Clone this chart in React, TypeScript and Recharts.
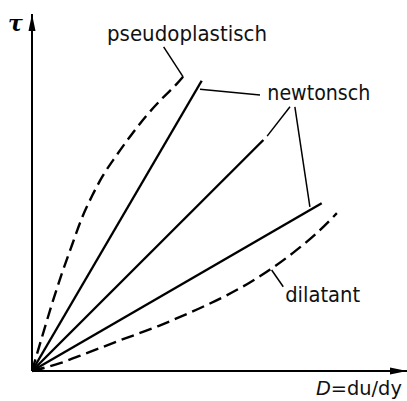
import { LineChart, Line, XAxis, YAxis, ReferenceLine, ReferenceDot } from "recharts";

// Fließkurven: Schubspannung tau über Schergefälle D (willkürliche Einheiten 0..100)
const pseudoX = [0, 2.67, 5.33, 8.0, 10.67, 13.33, 16.0, 18.67, 22.67, 26.67, 30.67, 34.67, 38.67, 41.33];
const pseudoY = [0, 9.5, 18.8, 27.4, 35.3, 42.9, 49.0, 54.3, 60.6, 66.4, 71.7, 76.3, 80.5, 83.75];

const dilX = [0, 7.5, 14.6, 23.5, 33.7, 38.7, 45.6, 51.9, 58.1, 63.5, 69.6, 75.9, 81.3];
const dilY = [0, 2.2, 5.0, 8.6, 12.6, 14.8, 18.0, 21.2, 24.8, 28.4, 33.1, 38.6, 44.2];

// newtonsche Geraden: Endpunkte (Start jeweils im Ursprung)
const newtonEndX = [45.25, 61.7, 77.25];
const newtonEndY = [81.3, 64.7, 47.0];

// Hinweislinien [x1, y1, x2, y2]
const leaders = [
  [35.1, 90.8, 40.3, 82.4],
  [44.8, 78.9, 60.8, 77.3],
  [68.8, 74.0, 62.7, 65.8],
  [70.1, 74.0, 74.1, 46.0],
  [63.9, 28.3, 67.0, 23.6],
];

// Beschriftungen: Text, x, y (Grundlinie), Breite in px
const labelText = ["pseudoplastisch", "newtonsch", "dilatant"];
const labelX = [20, 62.75, 67.5];
const labelY = [92.3, 75.9, 19.4];
const labelWidth = [160, 103, 75];

const zip = (xs: number[], ys: number[]) => xs.map((x, i) => ({ x, y: ys[i] }));

const pseudoData = zip(pseudoX, pseudoY);
const dilData = zip(dilX, dilY);
const newtonData = newtonEndX.map((x, i) => [
  { x: 0, y: 0 },
  { x, y: newtonEndY[i] },
]);

const FONT = "'DejaVu Sans Condensed', 'DejaVu Sans', sans-serif";

export default function App() {
  return (
    <div style={{ position: "absolute", left: 0, top: 0, background: "#fff" }}>
      <LineChart width={407} height={401} margin={{ top: 14, right: 0, bottom: 30, left: 32 }}>
        <XAxis type="number" dataKey="x" domain={[0, 100]} hide />
        <YAxis type="number" dataKey="y" domain={[0, 100]} hide />

        {/* Achsen */}
        <ReferenceLine x={0} stroke="#000" strokeWidth={2} />
        <ReferenceLine y={0} stroke="#000" strokeWidth={2} />

        <Line
          data={pseudoData}
          dataKey="y"
          type="monotone"
          stroke="#000"
          strokeWidth={2.4}
          strokeDasharray="12 6"
          dot={false}
          isAnimationActive={false}
        />
        {newtonData.map((d, i) => (
          <Line
            key={i}
            data={d}
            dataKey="y"
            type="linear"
            stroke="#000"
            strokeWidth={2.4}
            dot={false}
            isAnimationActive={false}
          />
        ))}
        <Line
          data={dilData}
          dataKey="y"
          type="monotone"
          stroke="#000"
          strokeWidth={2.4}
          strokeDasharray="13 6"
          dot={false}
          isAnimationActive={false}
        />

        {leaders.map((l, i) => (
          <ReferenceLine
            key={i}
            segment={[
              { x: l[0], y: l[1] },
              { x: l[2], y: l[3] },
            ]}
            stroke="#000"
            strokeWidth={1.5}
            ifOverflow="visible"
          />
        ))}

        {labelText.map((t, i) => (
          <ReferenceDot
            key={t}
            x={labelX[i]}
            y={labelY[i]}
            ifOverflow="visible"
            shape={(p: any) => (
              <text
                x={p.cx}
                y={p.cy}
                fontFamily={FONT}
                fontSize={22}
                fill="#111"
                textLength={labelWidth[i]}
                lengthAdjust="spacingAndGlyphs"
              >
                {t}
              </text>
            )}
          />
        ))}

        {/* Pfeilspitzen der Achsen */}
        <ReferenceDot
          x={0}
          y={100}
          ifOverflow="visible"
          shape={(p: any) => (
            <polygon
              points={`${p.cx},${p.cy} ${p.cx - 3.5},${p.cy + 17} ${p.cx + 3.5},${p.cy + 17}`}
              fill="#000"
            />
          )}
        />
        <ReferenceDot
          x={100}
          y={0}
          ifOverflow="visible"
          shape={(p: any) => (
            <polygon
              points={`${p.cx},${p.cy} ${p.cx - 17},${p.cy - 3.5} ${p.cx - 17},${p.cy + 3.5}`}
              fill="#000"
            />
          )}
        />

        {/* Achsenbeschriftungen */}
        <ReferenceDot
          x={-6.4}
          y={95.2}
          ifOverflow="visible"
          shape={(p: any) => (
            <text
              x={p.cx}
              y={p.cy}
              fontFamily="'DejaVu Serif', serif"
              fontStyle="italic"
              fontWeight="bold"
              fontSize={22}
              fill="#000"
            >
              τ
            </text>
          )}
        />
        <ReferenceDot
          x={75.7}
          y={-6.6}
          ifOverflow="visible"
          shape={(p: any) => (
            <text
              x={p.cx}
              y={p.cy}
              fontFamily={FONT}
              fontSize={19}
              fill="#111"
              textLength={86}
              lengthAdjust="spacingAndGlyphs"
            >
              <tspan fontStyle="italic">D</tspan>
              <tspan>=du/dy</tspan>
            </text>
          )}
        />
      </LineChart>
    </div>
  );
}
